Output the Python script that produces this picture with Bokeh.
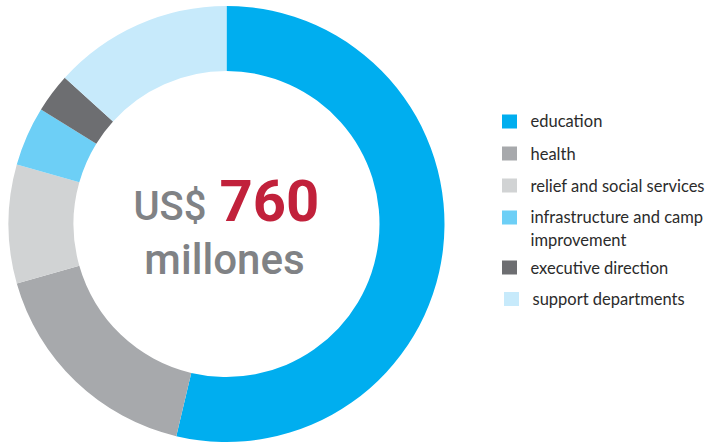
import numpy as np
from bokeh.plotting import figure
from bokeh.models import Range1d, ColumnDataSource
from bokeh.core.properties import value
from bokeh.embed import file_html
from bokeh.resources import INLINE

# ---- data ----
categories = ["education", "health", "relief and social services",
              "infrastructure and camp\nimprovement", "executive direction",
              "support departments"]
shares = [53.7, 16.9, 8.8, 4.4, 2.9, 13.3]   # percent of total budget
colors = ["#00AEEF", "#A7A9AC", "#D1D3D4", "#6DCFF6", "#6D6E71", "#C7EAFB"]
total_label = "760"

# ---- layout constants (image pixel coordinates) ----
W, H = 706, 445
CX, CY = 226, 223.5
R_OUT, R_IN = 218, 153
sq_x = [509, 509, 509, 509, 509, 511]
sq_y = [121, 153, 185, 217, 267, 298.5]
lab_x = [530, 530, 530, 530, 530, 532]
lab_y = [120, 153, 185, 228, 267, 298]

def fy(y):
    return H - np.asarray(y, dtype=float)

p = figure(width=W, height=H, output_backend="svg", toolbar_location=None,
           x_range=Range1d(0, W), y_range=Range1d(0, H),
           x_axis_location=None, y_axis_location=None, min_border=0)
p.outline_line_color = None
p.grid.visible = False
p.background_fill_color = "white"

frac = np.array(shares) / np.sum(shares)
cum = np.concatenate([[0], np.cumsum(frac)]) * 2 * np.pi  # clockwise from top
start = np.pi / 2 - cum[1:]
end = np.pi / 2 - cum[:-1]
src = ColumnDataSource(dict(start=start, end=end, color=colors))
p.annular_wedge(x=CX, y=H - CY, inner_radius=R_IN, outer_radius=R_OUT,
                start_angle="start", end_angle="end", fill_color="color",
                line_color=None, source=src)

# legend
p.rect(x=sq_x, y=fy(sq_y), width=15, height=14, fill_color=colors, line_color=None)
p.text(x=lab_x, y=fy(lab_y), text=categories, text_font=value("Lato"),
       text_font_size="16.5px", text_color="#2b2b2b", text_baseline="middle",
       text_align="left", text_line_height=1.12)

# center text
p.text(x=[206], y=fy([206]), text=["US$"], text_font=value("Roboto Medium"),
       text_font_size="40px", text_color="#808285", text_align="right",
       text_baseline="middle")
p.text(x=[219], y=fy([200]), text=[total_label], text_font=value("Roboto"),
       text_font_size="58px", text_font_style="bold", text_color="#C1213B",
       text_align="left", text_baseline="middle")
p.text(x=[224], y=fy([259]), text=["millones"], text_font=value("Roboto Medium"),
       text_font_size="42px", text_color="#808285", text_align="center",
       text_baseline="middle")

open("out.html", "w").write(file_html(p, INLINE))
